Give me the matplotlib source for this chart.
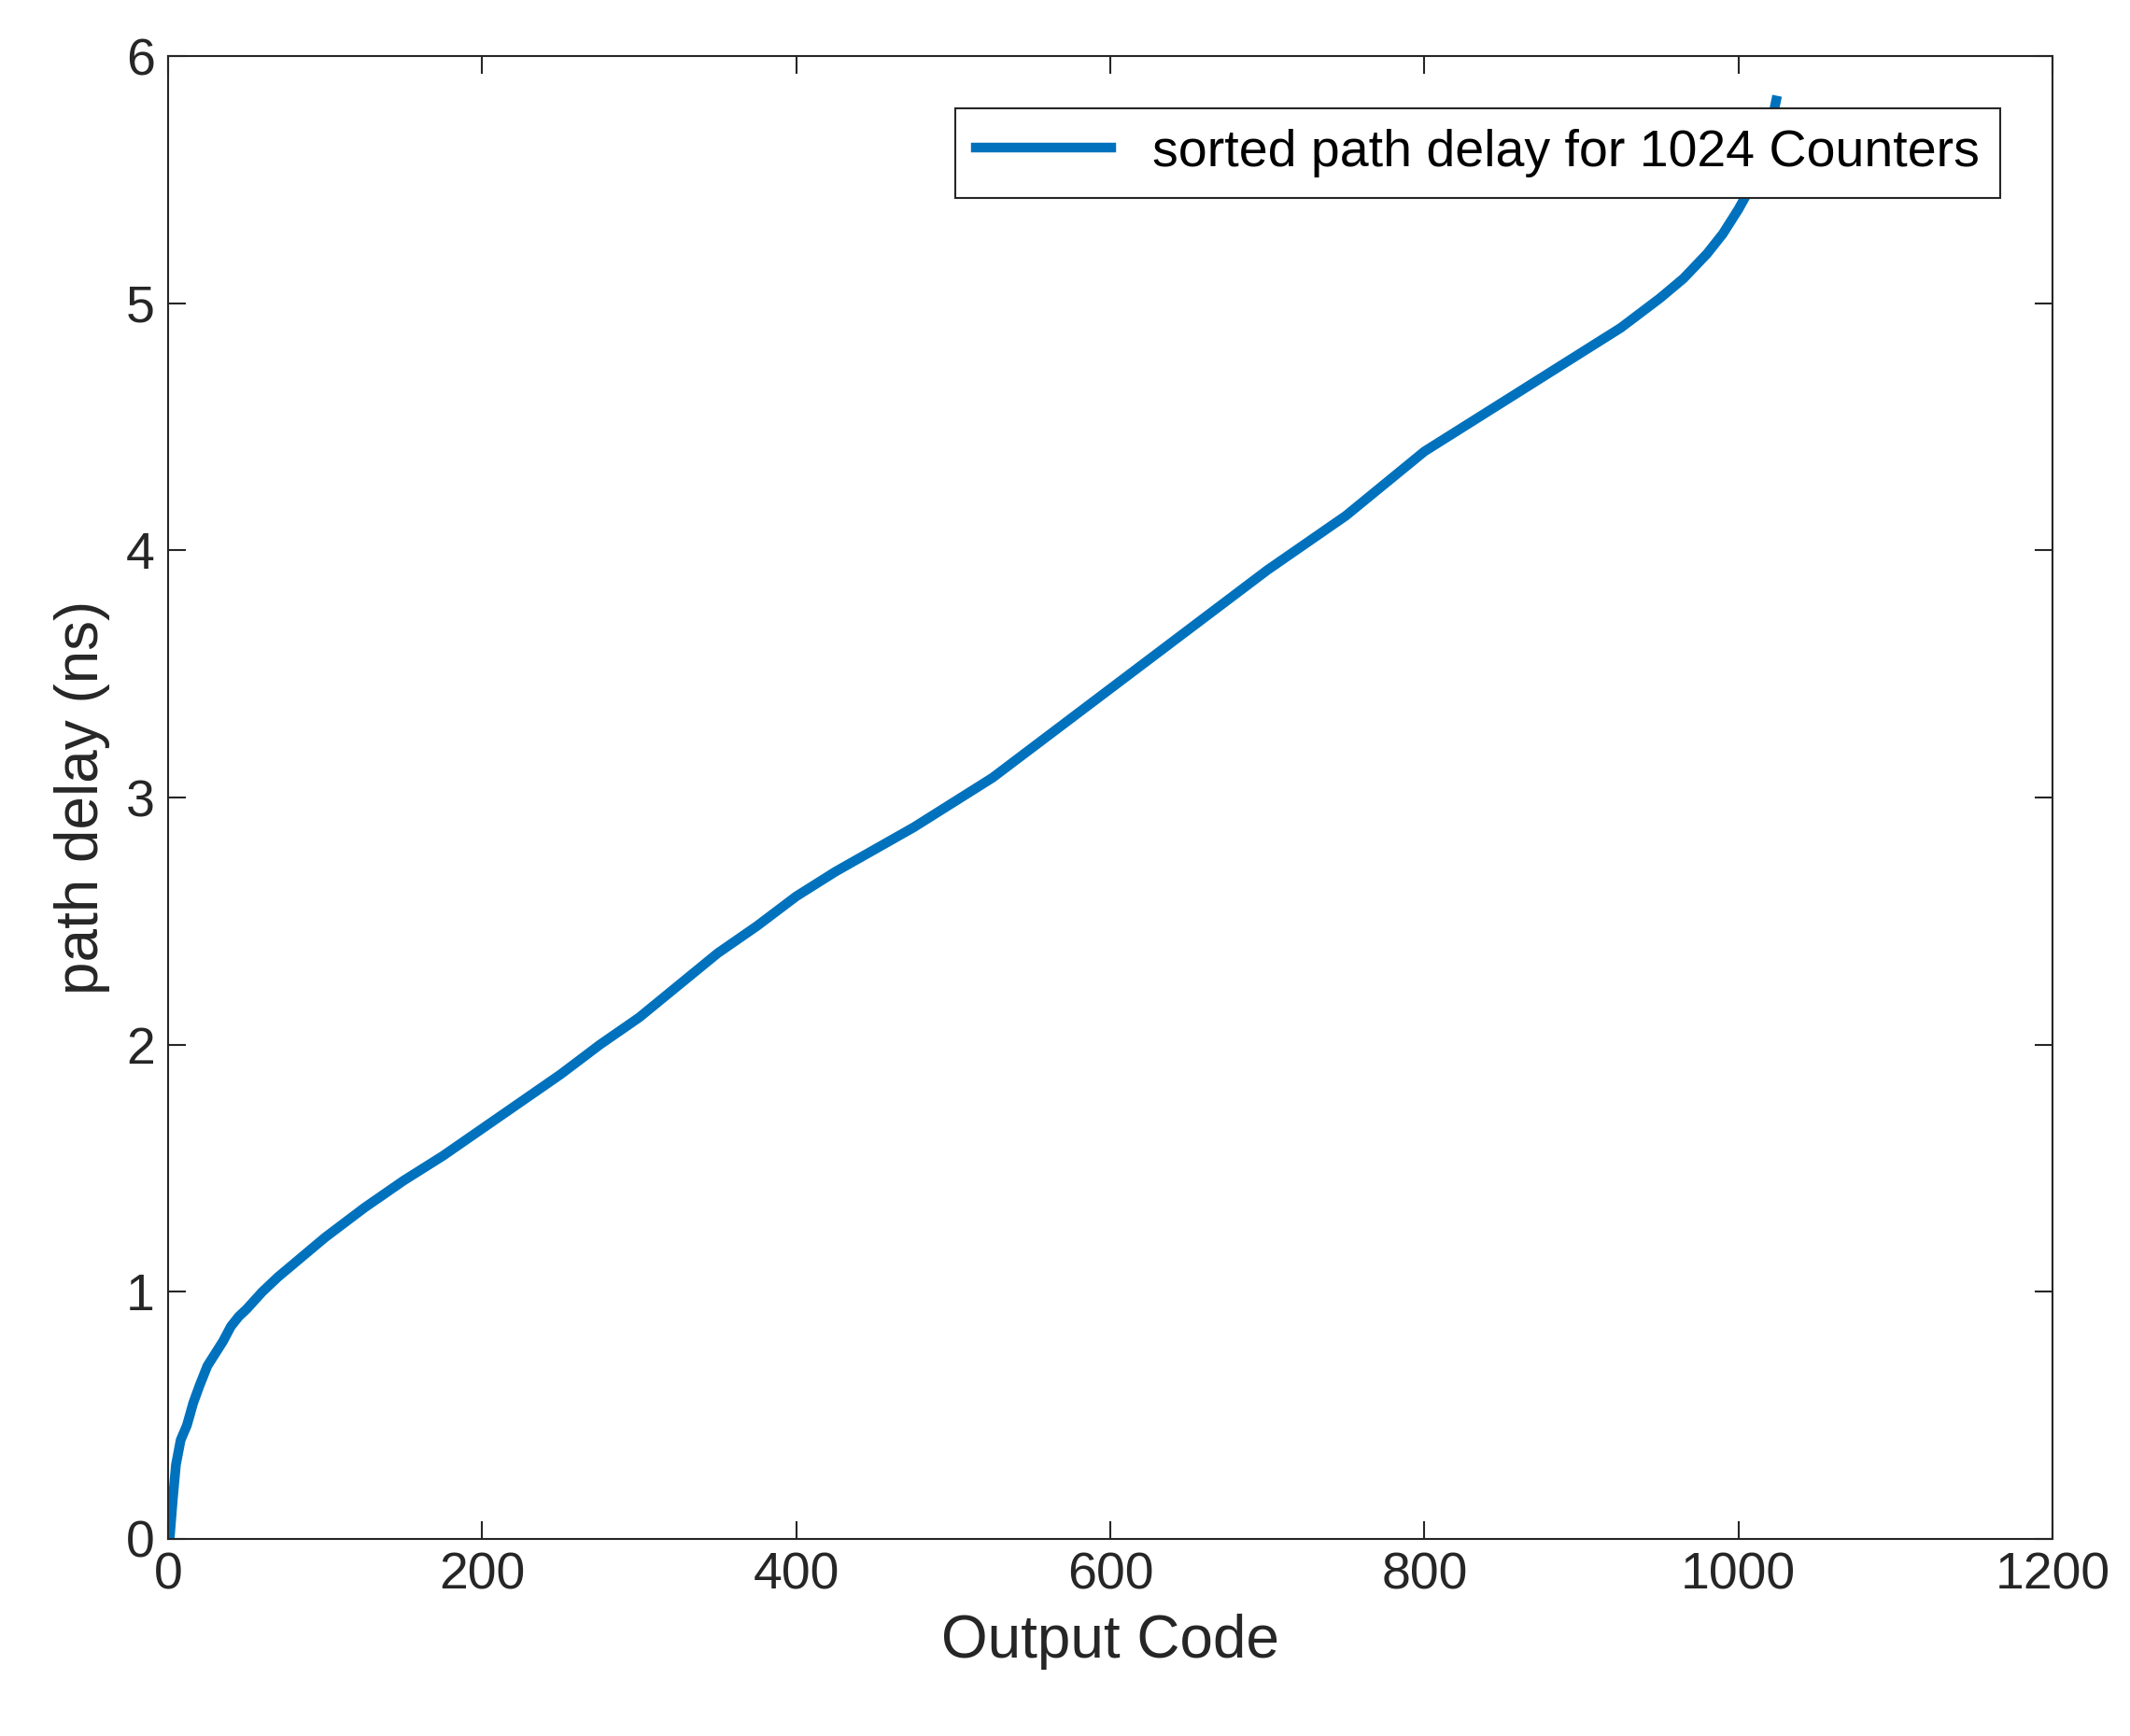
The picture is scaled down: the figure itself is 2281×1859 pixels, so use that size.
import matplotlib
matplotlib.use("Agg")
import matplotlib.pyplot as plt

code = [1, 2, 3, 5, 8, 12, 16, 20, 25, 30, 35, 40, 45, 50, 60, 70, 85, 100, 125, 150, 175, 200, 225, 250, 275, 300,
        325, 350, 375, 400, 425, 450, 475, 500, 525, 550, 575, 600, 625, 650, 675, 700, 725, 750, 775, 800,
        825, 850, 875, 900, 925, 950, 965, 980, 990, 1000, 1007, 1013, 1018, 1022, 1024]
delay = [0.0, 0.08, 0.16, 0.3, 0.4, 0.46, 0.55, 0.62, 0.7, 0.75, 0.8, 0.86, 0.9, 0.93, 1.0, 1.06, 1.14, 1.22, 1.34, 1.45, 1.55, 1.66, 1.77, 1.88, 2.0, 2.11,
         2.24, 2.37, 2.48, 2.6, 2.7, 2.79, 2.88, 2.98, 3.08, 3.2, 3.32, 3.44, 3.56, 3.68, 3.8, 3.92, 4.03, 4.14, 4.27, 4.4,
         4.5, 4.6, 4.7, 4.8, 4.9, 5.02, 5.1, 5.2, 5.28, 5.38, 5.46, 5.56, 5.66, 5.76, 5.82]

plt.rcParams['font.family'] = ['Liberation Sans', 'DejaVu Sans']
fig = plt.figure(figsize=(22.81, 18.59), dpi=100)
ax = fig.add_axes([180/2281, 1 - 1648/1859, (2198-180)/2281, (1648-60)/1859])
ax.plot(code, delay, color='#0072BD', lw=7.5, label='sorted path delay for 1024 Counters')
ax.set_xlim(0, 1200)
ax.set_ylim(0, 6)
ax.set_xticks(range(0, 1201, 200))
ax.set_yticks(range(0, 7))
ax.tick_params(direction='in', top=True, right=True, labelsize=40, length=14, width=1.5, colors='#262626', pad=10)
for s in ax.spines.values():
    s.set_linewidth(1.5)
    s.set_color('#262626')
ax.set_xlabel('Output Code', fontsize=46, color='#262626', labelpad=10)
ax.set_ylabel('path delay (ns)', fontsize=46, color='#262626', labelpad=12)
leg = ax.legend(loc='upper right', fontsize=40, fancybox=False, edgecolor='#262626',
                handlelength=2.6, borderaxespad=1.0, framealpha=1)
leg.get_frame().set_linewidth(1.5)
fig.savefig('out.png', dpi=100)
